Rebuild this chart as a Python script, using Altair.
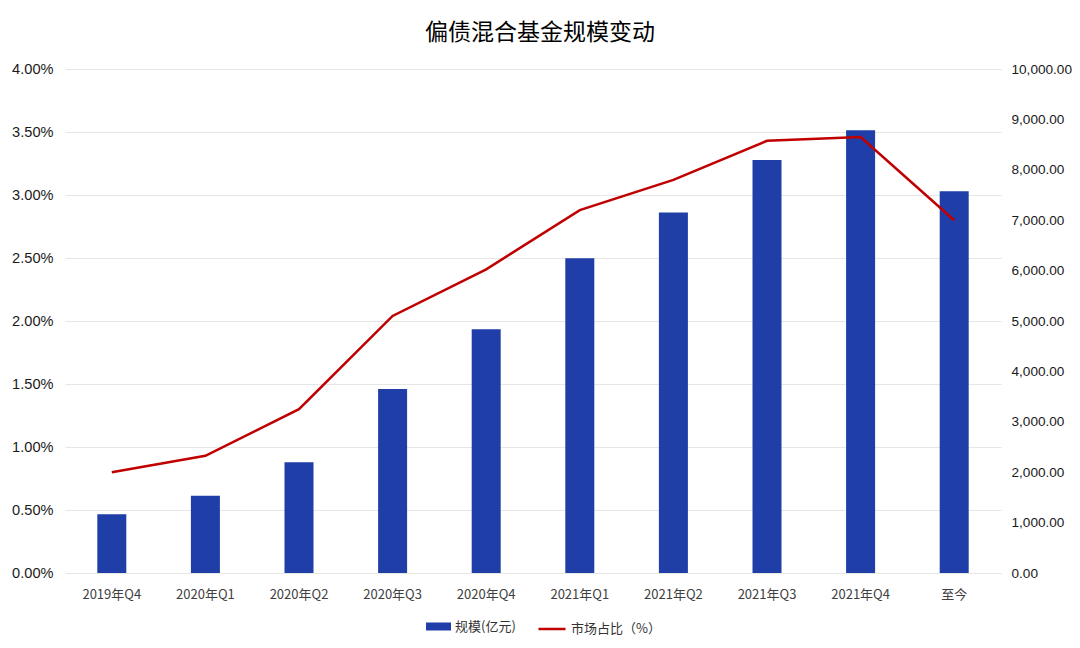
import altair as alt
import pandas as pd

categories = ["2019年Q4", "2020年Q1", "2020年Q2", "2020年Q3", "2020年Q4",
              "2021年Q1", "2021年Q2", "2021年Q3", "2021年Q4", "至今"]
scale_values = [1165, 1535, 2198, 3651, 4838, 6247, 7155, 8194, 8786, 7576]
share_values = [0.80, 0.93, 1.30, 2.04, 2.41, 2.88, 3.12, 3.43, 3.46, 2.80]
left_ticks = [0, 0.5, 1.0, 1.5, 2.0, 2.5, 3.0, 3.5, 4.0]
right_ticks = [0, 1000, 2000, 3000, 4000, 5000, 6000, 7000, 8000, 9000, 10000]
bar_name = "规模(亿元)"
line_name = "市场占比（%）"

df = pd.DataFrame({
    "cat": categories,
    "size": scale_values,
    "share": share_values,
    "bar_series": [bar_name] * len(categories),
    "line_series": [line_name] * len(categories),
})

cjk = "Noto Sans CJK SC"
latin = "Liberation Sans"

x = alt.X("cat:N", sort=categories,
          scale=alt.Scale(paddingInner=0, paddingOuter=0),
          axis=alt.Axis(title=None, labelAngle=0, ticks=False, domain=False,
                        labelFont=cjk, labelFontSize=13, labelColor="#404040",
                        labelPadding=15))

bars = alt.Chart(df).mark_bar(size=29).encode(
    x=x,
    y=alt.Y("size:Q", scale=alt.Scale(domain=[0, 10000]),
            axis=alt.Axis(orient="right", values=right_ticks, format=",.2f",
                          grid=False, ticks=False, domain=False, title=None,
                          labelFont=latin, labelFontSize=13.6, labelColor="#1a1a1a",
                          labelPadding=10)),
    color=alt.Color("bar_series:N",
                    scale=alt.Scale(domain=[bar_name], range=["#1f3ea8"]),
                    legend=alt.Legend(title=None, orient="none", legendX=361, legendY=545,
                                      symbolType="M-1,-0.32H1V0.32H-1Z", symbolSize=625,
                                      labelFont=cjk, labelFontSize=13, labelColor="#333333",
                                      symbolStrokeWidth=0)),
)

line = alt.Chart(df).mark_line(strokeWidth=2.5).encode(
    x=x,
    y=alt.Y("share:Q", scale=alt.Scale(domain=[0, 4]),
            axis=alt.Axis(orient="left", values=left_ticks,
                          labelExpr="format(datum.value, '.2f') + '%'",
                          grid=True, gridColor="#e6e6e6", gridWidth=1,
                          ticks=False, domain=False, title=None,
                          labelFont=latin, labelFontSize=14.6, labelColor="#1a1a1a",
                          labelPadding=12)),
    stroke=alt.Stroke("line_series:N",
                      scale=alt.Scale(domain=[line_name], range=["#c00000"]),
                      legend=alt.Legend(title=None, orient="none", legendX=472, legendY=545,
                                        symbolType="stroke", symbolSize=729,
                                        symbolStrokeWidth=2.5,
                                        labelFont=cjk, labelFontSize=13, labelColor="#333333")),
)

chart = alt.layer(bars, line).resolve_scale(y="independent").properties(
    width=936, height=504,
    autosize=alt.AutoSizeParams(type="none"),
    padding={"left": 57, "top": 61, "right": 71, "bottom": 67},
    title=alt.Title("偏债混合基金规模变动", fontSize=23, font=cjk, fontWeight="normal",
                    color="#000000", offset=16, anchor="middle", dx=7),
).configure_view(stroke=None)

chart.save("out.html", embed_options={"renderer": "svg", "actions": False})
